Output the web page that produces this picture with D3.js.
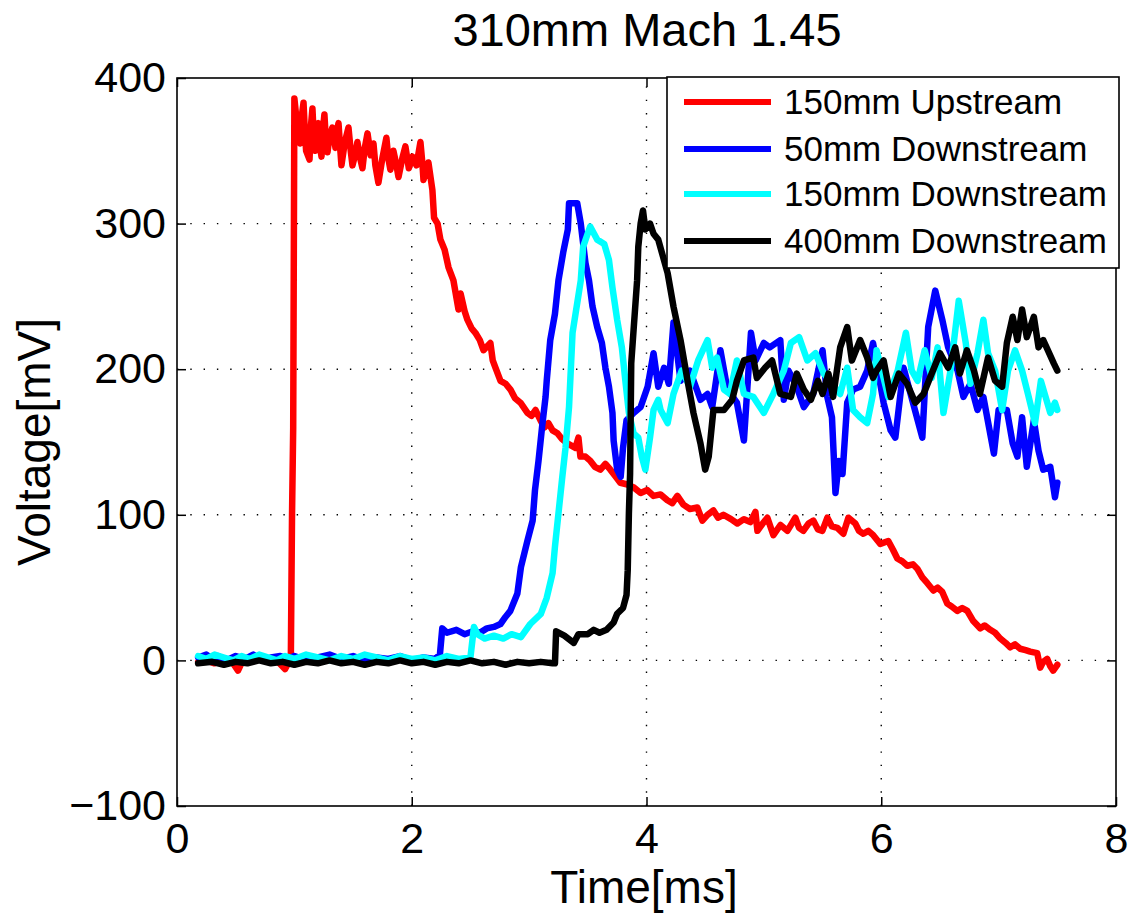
<!DOCTYPE html>
<html>
<head>
<meta charset="utf-8">
<script src="https://cdn.jsdelivr.net/npm/d3@7"></script>
<style>
  body { margin: 0; background: #fff; }
  svg { font-family: "Liberation Sans", Arial, sans-serif; }
</style>
</head>
<body>
<svg id="chart" width="1143" height="915"></svg>
<script>
// time [ms], voltage [mV]
const upstream150 = [
  [0.18,-1],[0.25,0],[0.32,-2],[0.40,1],[0.47,-1],[0.52,-7],[0.56,0],[0.63,-1],[0.70,1],[0.78,-1],[0.85,0],[0.92,-6],[0.96,0],
  [0.97,2],[0.98,100],[0.99,160],[1.0,386],[1.02,370],[1.03,360],[1.05,355],[1.06,372],[1.078,383],[1.09,362],[1.10,350],
  [1.129,344],[1.14,366],[1.154,379],[1.165,360],[1.18,350],[1.19,362],[1.205,369],[1.22,352],[1.231,346],[1.245,366],
  [1.256,375],[1.27,355],[1.282,349],[1.30,360],[1.324,366],[1.35,352],[1.36,363],[1.376,369],[1.39,352],[1.401,340],
  [1.43,356],[1.461,366],[1.48,350],[1.495,340],[1.52,348],[1.537,356],[1.56,345],[1.58,338],[1.60,352],[1.623,362],
  [1.65,347],[1.674,355],[1.69,340],[1.716,328],[1.75,345],[1.784,359],[1.80,345],[1.818,337],[1.844,350],[1.87,340],
  [1.887,332],[1.92,345],[1.946,353],[1.975,338],[2.006,346],[2.04,340],[2.074,356],[2.09,342],[2.10,330],[2.142,342],
  [2.176,323],[2.19,304],[2.22,300],[2.244,289],[2.28,282],[2.313,270],[2.355,261],[2.398,241],[2.416,252],[2.45,240],
  [2.474,234],[2.51,228],[2.542,225],[2.58,220],[2.611,213],[2.67,218],[2.69,206],[2.713,201],[2.756,192],[2.80,190],
  [2.841,186],[2.88,180],[2.926,177],[2.986,170],[3.02,168],[3.054,172],[3.096,165],[3.13,160],[3.164,163],[3.20,158],
  [3.241,156],[3.28,152],[3.326,149],[3.394,146],[3.42,153],[3.437,140],[3.48,140],[3.522,137],[3.56,133],[3.607,131],
  [3.65,135],[3.692,131],[3.74,126],[3.777,122],[3.83,121],[3.888,119],[3.95,115],[4.007,117],[4.059,113],[4.12,114],
  [4.178,110],[4.22,108],[4.263,113],[4.314,107],[4.37,104],[4.433,105],[4.476,96],[4.52,100],[4.57,103],[4.61,98],
  [4.655,100],[4.72,97],[4.774,94],[4.83,97],[4.885,95],[4.928,102],[4.945,89],[4.99,94],[5.03,98],[5.081,86],[5.141,93],
  [5.2,89],[5.268,98],[5.30,91],[5.336,89],[5.38,94],[5.422,96],[5.46,90],[5.498,89],[5.541,98],[5.58,92],[5.626,91],
  [5.677,87],[5.72,98],[5.779,94],[5.81,89],[5.847,87],[5.89,89],[5.932,86],[5.992,80],[6.06,82],[6.10,76],[6.137,70],
  [6.18,68],[6.222,65],[6.27,66],[6.307,63],[6.35,57],[6.393,53],[6.444,48],[6.48,50],[6.52,47],[6.563,39],[6.60,37],
  [6.648,34],[6.69,36],[6.733,34],[6.784,27],[6.844,22],[6.88,24],[6.929,21],[6.97,19],[7.014,15],[7.06,12],[7.099,9],
  [7.14,11],[7.184,8],[7.23,7],[7.269,6],[7.329,5],[7.354,-5],[7.38,-1],[7.414,1],[7.44,-4],[7.465,-7],[7.5,-3]
];

const downstream50 = [
  [0.18,2],[0.25,4],[0.3,1],[0.35,3],[0.42,0],[0.5,3],[0.58,1],[0.65,4],[0.72,0],[0.8,2],[0.88,3],[0.95,1],[1.0,3],[1.1,0],
  [1.2,2],[1.3,4],[1.4,1],[1.5,3],[1.6,0],[1.7,2],[1.8,1],[1.9,3],[2.0,0],[2.1,2],[2.2,1],[2.24,4],[2.26,22],[2.3,19],
  [2.38,21],[2.45,18],[2.52,20],[2.58,19],[2.64,22],[2.7,23],[2.756,25],[2.8,30],[2.84,34],[2.9,46],[2.93,64],[2.985,82],
  [3.03,96],[3.05,117],[3.08,137],[3.11,160],[3.14,181],[3.15,192],[3.18,220],[3.22,238],[3.25,261],[3.29,280],[3.33,296],
  [3.34,314],[3.41,314],[3.44,300],[3.48,273],[3.51,261],[3.54,243],[3.58,229],[3.62,218],[3.65,201],[3.68,188],[3.71,170],
  [3.72,151],[3.75,131],[3.78,126],[3.80,146],[3.83,165],[3.89,170],[3.95,174],[4.01,188],[4.06,211],[4.10,188],[4.15,201],
  [4.19,190],[4.23,232],[4.29,192],[4.37,199],[4.46,179],[4.52,183],[4.56,174],[4.63,213],[4.69,186],[4.77,177],[4.83,151],
  [4.89,225],[4.93,206],[5.0,218],[5.05,215],[5.14,220],[5.17,179],[5.21,199],[5.28,188],[5.34,174],[5.42,183],[5.5,213],
  [5.54,181],[5.58,167],[5.61,115],[5.64,137],[5.67,128],[5.71,177],[5.76,186],[5.82,188],[5.88,199],[5.93,218],[6.02,177],
  [6.08,158],[6.12,153],[6.19,201],[6.27,177],[6.35,153],[6.40,229],[6.46,254],[6.52,234],[6.57,215],[6.65,199],[6.70,181],
  [6.76,190],[6.82,172],[6.87,181],[6.96,142],[7.0,172],[7.07,172],[7.12,149],[7.16,140],[7.2,167],[7.24,133],[7.3,165],
  [7.34,144],[7.38,131],[7.44,133],[7.48,112],[7.5,122]
];

const downstream150 = [
  [0.18,3],[0.25,1],[0.32,4],[0.4,2],[0.48,0],[0.55,3],[0.62,1],[0.7,4],[0.78,2],[0.85,0],[0.92,3],[1.0,1],[1.1,4],[1.2,2],
  [1.3,0],[1.4,3],[1.5,1],[1.6,4],[1.7,2],[1.8,0],[1.9,3],[2.0,1],[2.1,2],[2.2,0],[2.3,3],[2.4,1],[2.5,2],[2.53,23],[2.56,18],
  [2.62,15],[2.7,17],[2.78,15],[2.85,18],[2.93,16],[3.01,25],[3.1,32],[3.15,43],[3.2,60],[3.22,78],[3.25,101],[3.28,124],
  [3.31,146],[3.34,174],[3.37,225],[3.44,261],[3.46,284],[3.52,298],[3.58,289],[3.64,286],[3.68,275],[3.71,256],[3.75,234],
  [3.79,215],[3.82,192],[3.85,170],[3.89,156],[3.93,153],[3.96,140],[3.99,131],[4.03,153],[4.06,172],[4.10,179],[4.12,172],
  [4.18,163],[4.23,183],[4.30,199],[4.37,188],[4.44,206],[4.52,220],[4.56,201],[4.60,208],[4.66,186],[4.71,183],[4.77,206],
  [4.83,183],[4.91,181],[5.0,170],[5.08,183],[5.17,199],[5.23,218],[5.30,222],[5.37,206],[5.44,211],[5.51,197],[5.58,190],
  [5.65,183],[5.71,201],[5.76,172],[5.82,167],[5.88,163],[5.93,183],[5.96,213],[6.02,194],[6.06,181],[6.14,199],[6.21,225],
  [6.26,199],[6.31,192],[6.37,213],[6.43,194],[6.48,215],[6.53,170],[6.59,199],[6.66,247],[6.72,218],[6.76,190],[6.82,211],
  [6.87,234],[6.91,211],[6.97,199],[7.03,172],[7.08,199],[7.14,213],[7.2,199],[7.25,183],[7.31,163],[7.36,192],[7.4,181],
  [7.44,170],[7.48,177],[7.5,172]
];

const downstream400 = [
  [0.18,-2],[0.3,-1],[0.4,-3],[0.5,-1],[0.6,-2],[0.7,0],[0.8,-2],[0.9,-1],[1.0,-3],[1.1,-1],[1.2,-2],[1.3,0],[1.4,-2],[1.5,-1],
  [1.6,-3],[1.7,-1],[1.8,-2],[1.9,0],[2.0,-2],[2.1,-1],[2.2,-3],[2.3,-1],[2.4,-2],[2.5,0],[2.6,-2],[2.7,-1],[2.8,-3],[2.9,-1],
  [3.0,-2],[3.1,-1],[3.2,-2],[3.22,-2],[3.23,20],[3.3,17],[3.38,12],[3.42,18],[3.5,18],[3.55,21],[3.6,19],[3.66,21],[3.72,26],
  [3.75,32],[3.8,36],[3.83,45],[3.84,62],[3.85,101],[3.86,128],[3.87,204],[3.89,227],[3.92,261],[3.93,284],[3.95,300],
  [3.97,309],[3.99,296],[4.03,300],[4.06,293],[4.10,289],[4.18,266],[4.23,243],[4.29,220],[4.35,192],[4.40,170],[4.46,149],
  [4.50,131],[4.53,140],[4.57,172],[4.66,172],[4.73,179],[4.77,192],[4.83,206],[4.91,208],[4.94,194],[5.01,201],[5.07,206],
  [5.14,183],[5.23,181],[5.28,197],[5.34,186],[5.40,179],[5.46,192],[5.50,183],[5.55,197],[5.59,181],[5.65,215],[5.71,229],
  [5.75,206],[5.82,220],[5.88,208],[5.93,194],[5.96,199],[6.02,206],[6.08,181],[6.15,197],[6.22,190],[6.29,177],[6.36,183],
  [6.43,197],[6.50,211],[6.57,201],[6.63,215],[6.67,197],[6.73,213],[6.79,199],[6.84,183],[6.91,208],[6.97,192],[7.03,188],
  [7.07,218],[7.12,236],[7.16,220],[7.20,241],[7.24,222],[7.30,236],[7.34,215],[7.38,220],[7.42,213],[7.47,204],[7.5,199]
];

const seriesNames = ["150mm Upstream", "50mm Downstream", "150mm Downstream", "400mm Downstream"];
const seriesColors = ["#ff0000", "#0000ff", "#00ffff", "#000000"];
const xTicks = [0, 2, 4, 6, 8];
const yTicks = [-100, 0, 100, 200, 300, 400];

const allSeries = [upstream150, downstream50, downstream150, downstream400];

const plotLeft = 177, plotRight = 1116, plotTop = 78, plotBottom = 806;

const svg = d3.select("#chart");

const x = d3.scaleLinear().domain([0, 8]).range([plotLeft, plotRight]);
const y = d3.scaleLinear().domain([-100, 400]).range([plotBottom, plotTop]);

// dotted grid
const grid = svg.append("g")
  .attr("stroke", "#000")
  .attr("stroke-width", 1.4)
  .attr("stroke-dasharray", "1.4,11.9");
grid.selectAll("line.gx")
  .data(xTicks.slice(1, -1))
  .enter().append("line")
  .attr("x1", d => x(d)).attr("x2", d => x(d))
  .attr("y1", plotBottom).attr("y2", plotTop);
grid.selectAll("line.gy")
  .data(yTicks.slice(1, -1))
  .enter().append("line")
  .attr("x1", plotLeft).attr("x2", plotRight)
  .attr("y1", d => y(d)).attr("y2", d => y(d));

// data lines
const line = d3.line()
  .x(d => x(d[0]))
  .y(d => y(d[1]));

svg.append("g")
  .selectAll("path")
  .data(allSeries)
  .enter().append("path")
  .attr("d", line)
  .attr("fill", "none")
  .attr("stroke", (d, i) => seriesColors[i])
  .attr("stroke-width", 6.5)
  .attr("stroke-linejoin", "round")
  .attr("stroke-linecap", "round");

// axes, MATLAB style with inward ticks
const tickLen = 9;
const styleAxis = g => {
  g.select(".domain").remove();
  g.selectAll(".tick line").attr("stroke", "#000").attr("stroke-width", 1.5);
  g.selectAll("text").attr("font-size", 43).attr("fill", "#000")
    .attr("font-family", "'Liberation Sans', Arial, sans-serif");
};

svg.append("g")
  .attr("transform", `translate(0,${plotBottom})`)
  .call(d3.axisBottom(x).tickValues(xTicks).tickSize(-tickLen).tickPadding(16).tickFormat(d3.format("d")))
  .call(styleAxis);
svg.append("g")
  .attr("transform", `translate(0,${plotTop})`)
  .call(d3.axisTop(x).tickValues(xTicks).tickSize(-tickLen).tickFormat(""))
  .call(styleAxis);
svg.append("g")
  .attr("transform", `translate(${plotLeft},0)`)
  .call(d3.axisLeft(y).tickValues(yTicks).tickSize(-tickLen).tickPadding(11).tickFormat(d3.format("d")))
  .call(styleAxis);
svg.append("g")
  .attr("transform", `translate(${plotRight},0)`)
  .call(d3.axisRight(y).tickValues(yTicks).tickSize(-tickLen).tickFormat(""))
  .call(styleAxis);

// box
svg.append("rect")
  .attr("x", plotLeft).attr("y", plotTop)
  .attr("width", plotRight - plotLeft).attr("height", plotBottom - plotTop)
  .attr("fill", "none").attr("stroke", "#000").attr("stroke-width", 1.6);

// titles
svg.append("text")
  .attr("x", 647).attr("y", 46)
  .attr("text-anchor", "middle").attr("font-size", 47)
  .text("310mm Mach 1.45");
svg.append("text")
  .attr("x", 644).attr("y", 903)
  .attr("text-anchor", "middle").attr("font-size", 46)
  .text("Time[ms]");
svg.append("text")
  .attr("transform", `translate(50,${(plotTop + plotBottom) / 2}) rotate(-90)`)
  .attr("text-anchor", "middle").attr("font-size", 46)
  .text("Voltage[mV]");

// legend
const lg = svg.append("g");
lg.append("rect")
  .attr("x", 667).attr("y", 77).attr("width", 452).attr("height", 191)
  .attr("fill", "#fff").attr("stroke", "#000").attr("stroke-width", 1.6);
const rowY = [102, 149, 194, 241];
const rows = lg.selectAll("g.row")
  .data(seriesNames)
  .enter().append("g")
  .attr("transform", (d, i) => `translate(0,${rowY[i]})`);
rows.append("line")
  .attr("x1", 684).attr("x2", 771)
  .attr("stroke", (d, i) => seriesColors[i])
  .attr("stroke-width", 6);
rows.append("text")
  .attr("x", 784).attr("dy", "0.35em")
  .attr("font-size", 35)
  .text(d => d);
</script>
</body>
</html>
